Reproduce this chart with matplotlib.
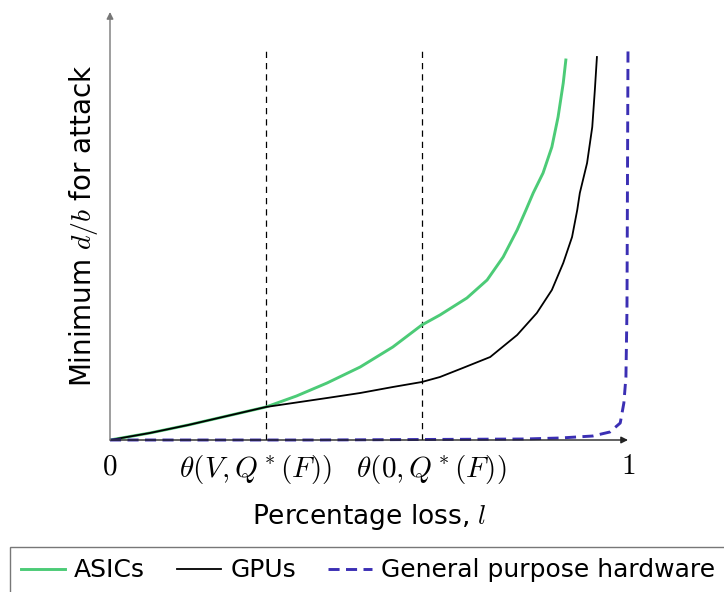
import numpy as np
import matplotlib.pyplot as plt
from matplotlib.transforms import ScaledTranslation

plt.rcParams['mathtext.fontset'] = 'cm'

# ASICs (green) curve
asic_x = [0, 0.077, 0.151, 0.226, 0.301, 0.360, 0.419, 0.483, 0.546, 0.602,
          0.637, 0.689, 0.728, 0.759, 0.786, 0.803, 0.817, 0.836, 0.853,
          0.865, 0.875, 0.880]
asic_y = [0, 0.07, 0.15, 0.24, 0.33, 0.44, 0.57, 0.73, 0.93, 1.15,
          1.25, 1.42, 1.60, 1.83, 2.10, 2.30, 2.47, 2.67, 2.93,
          3.23, 3.57, 3.80]

# GPUs (black)
gpu_x = [0, 0.077, 0.151, 0.226, 0.301, 0.360, 0.419, 0.483, 0.546, 0.602,
         0.637, 0.681, 0.734, 0.786, 0.824, 0.853, 0.875, 0.892, 0.902,
         0.907, 0.921, 0.931, 0.936, 0.940]
gpu_y = [0, 0.07, 0.15, 0.24, 0.33, 0.375, 0.42, 0.47, 0.53, 0.58,
         0.63, 0.72, 0.83, 1.05, 1.27, 1.50, 1.77, 2.03, 2.30,
         2.47, 2.77, 3.13, 3.50, 3.83]

# general purpose hardware (blue dashed)
gp_x = [0, 0.2, 0.4, 0.6, 0.8, 0.869, 0.932, 0.965, 0.985, 0.992, 0.996, 0.998, 1.0]
gp_y = [0, 0, 0, 0.005, 0.01, 0.02, 0.04, 0.08, 0.17, 0.37, 0.63, 1.3, 3.9]

theta_pos = [0.301, 0.602]
tick_pos = [0, 0.301, 0.602, 1]
tick_labels = ['$0$', r'$\theta(V,Q^*(F))$', r'$\theta(0,Q^*(F))$', '$1$']

fig = plt.figure(figsize=(7.24, 5.92), dpi=100)
ax = fig.add_axes([110 / 724, 152 / 592, 518 / 724, 428 / 592])
ax.set_xlim(0, 1)
ax.set_ylim(0, 4.28)
for s in ax.spines.values():
    s.set_visible(False)

for t in theta_pos:
    ax.plot([t, t], [0, 3.93], color='black', lw=0.9, dashes=(5, 4))

ax.plot(asic_x, asic_y, color='#4ccb77', lw=2.1, label='ASICs',
        solid_joinstyle='round')
ax.plot(gpu_x, gpu_y, color='black', lw=1.3, label='GPUs',
        solid_joinstyle='round')
ax.plot(gp_x, gp_y, color='#3b2fb4', lw=2.1, dashes=(3.8, 2.2),
        label='General purpose hardware', clip_on=False)

# axes with arrows
ax.annotate('', xy=(1.0, 0), xytext=(0, 0), annotation_clip=False,
            arrowprops=dict(arrowstyle='-|>', color='#222222', lw=1.0,
                            mutation_scale=10, shrinkA=0, shrinkB=0))
ax.annotate('', xy=(0, 4.28), xytext=(0, 0), annotation_clip=False,
            arrowprops=dict(arrowstyle='-|>', color='#777777', lw=1.0,
                            mutation_scale=10, shrinkA=0, shrinkB=0))

ax.set_xticks(tick_pos)
ax.set_xticklabels(tick_labels, fontsize=21)
ax.tick_params(axis='x', length=0, pad=9)
ax.set_yticks([])
# the two theta labels sit a bit apart from their lines
for lbl, dx in zip(ax.get_xticklabels(), [0, -0.11, 0.09, 0]):
    lbl.set_transform(lbl.get_transform() + ScaledTranslation(dx, 0, fig.dpi_scale_trans))

ax.set_xlabel('Percentage loss, $l$', fontsize=19)
ax.xaxis.set_label_coords(0.5, -0.145)
ax.set_ylabel('Minimum $d/b$ for attack', fontsize=20)
ax.yaxis.set_label_coords(-0.019, 0.5)

leg = fig.legend(loc='upper left', bbox_to_anchor=(10 / 724, 1 - 547 / 592),
                 ncol=3, fontsize=18, frameon=True, fancybox=False,
                 handlelength=1.76, handletextpad=0.36, columnspacing=1.28,
                 borderpad=0.45, borderaxespad=0)
leg.get_frame().set_edgecolor('#555555')
leg.get_frame().set_linewidth(1.0)

fig.savefig('out.png', dpi=100)
